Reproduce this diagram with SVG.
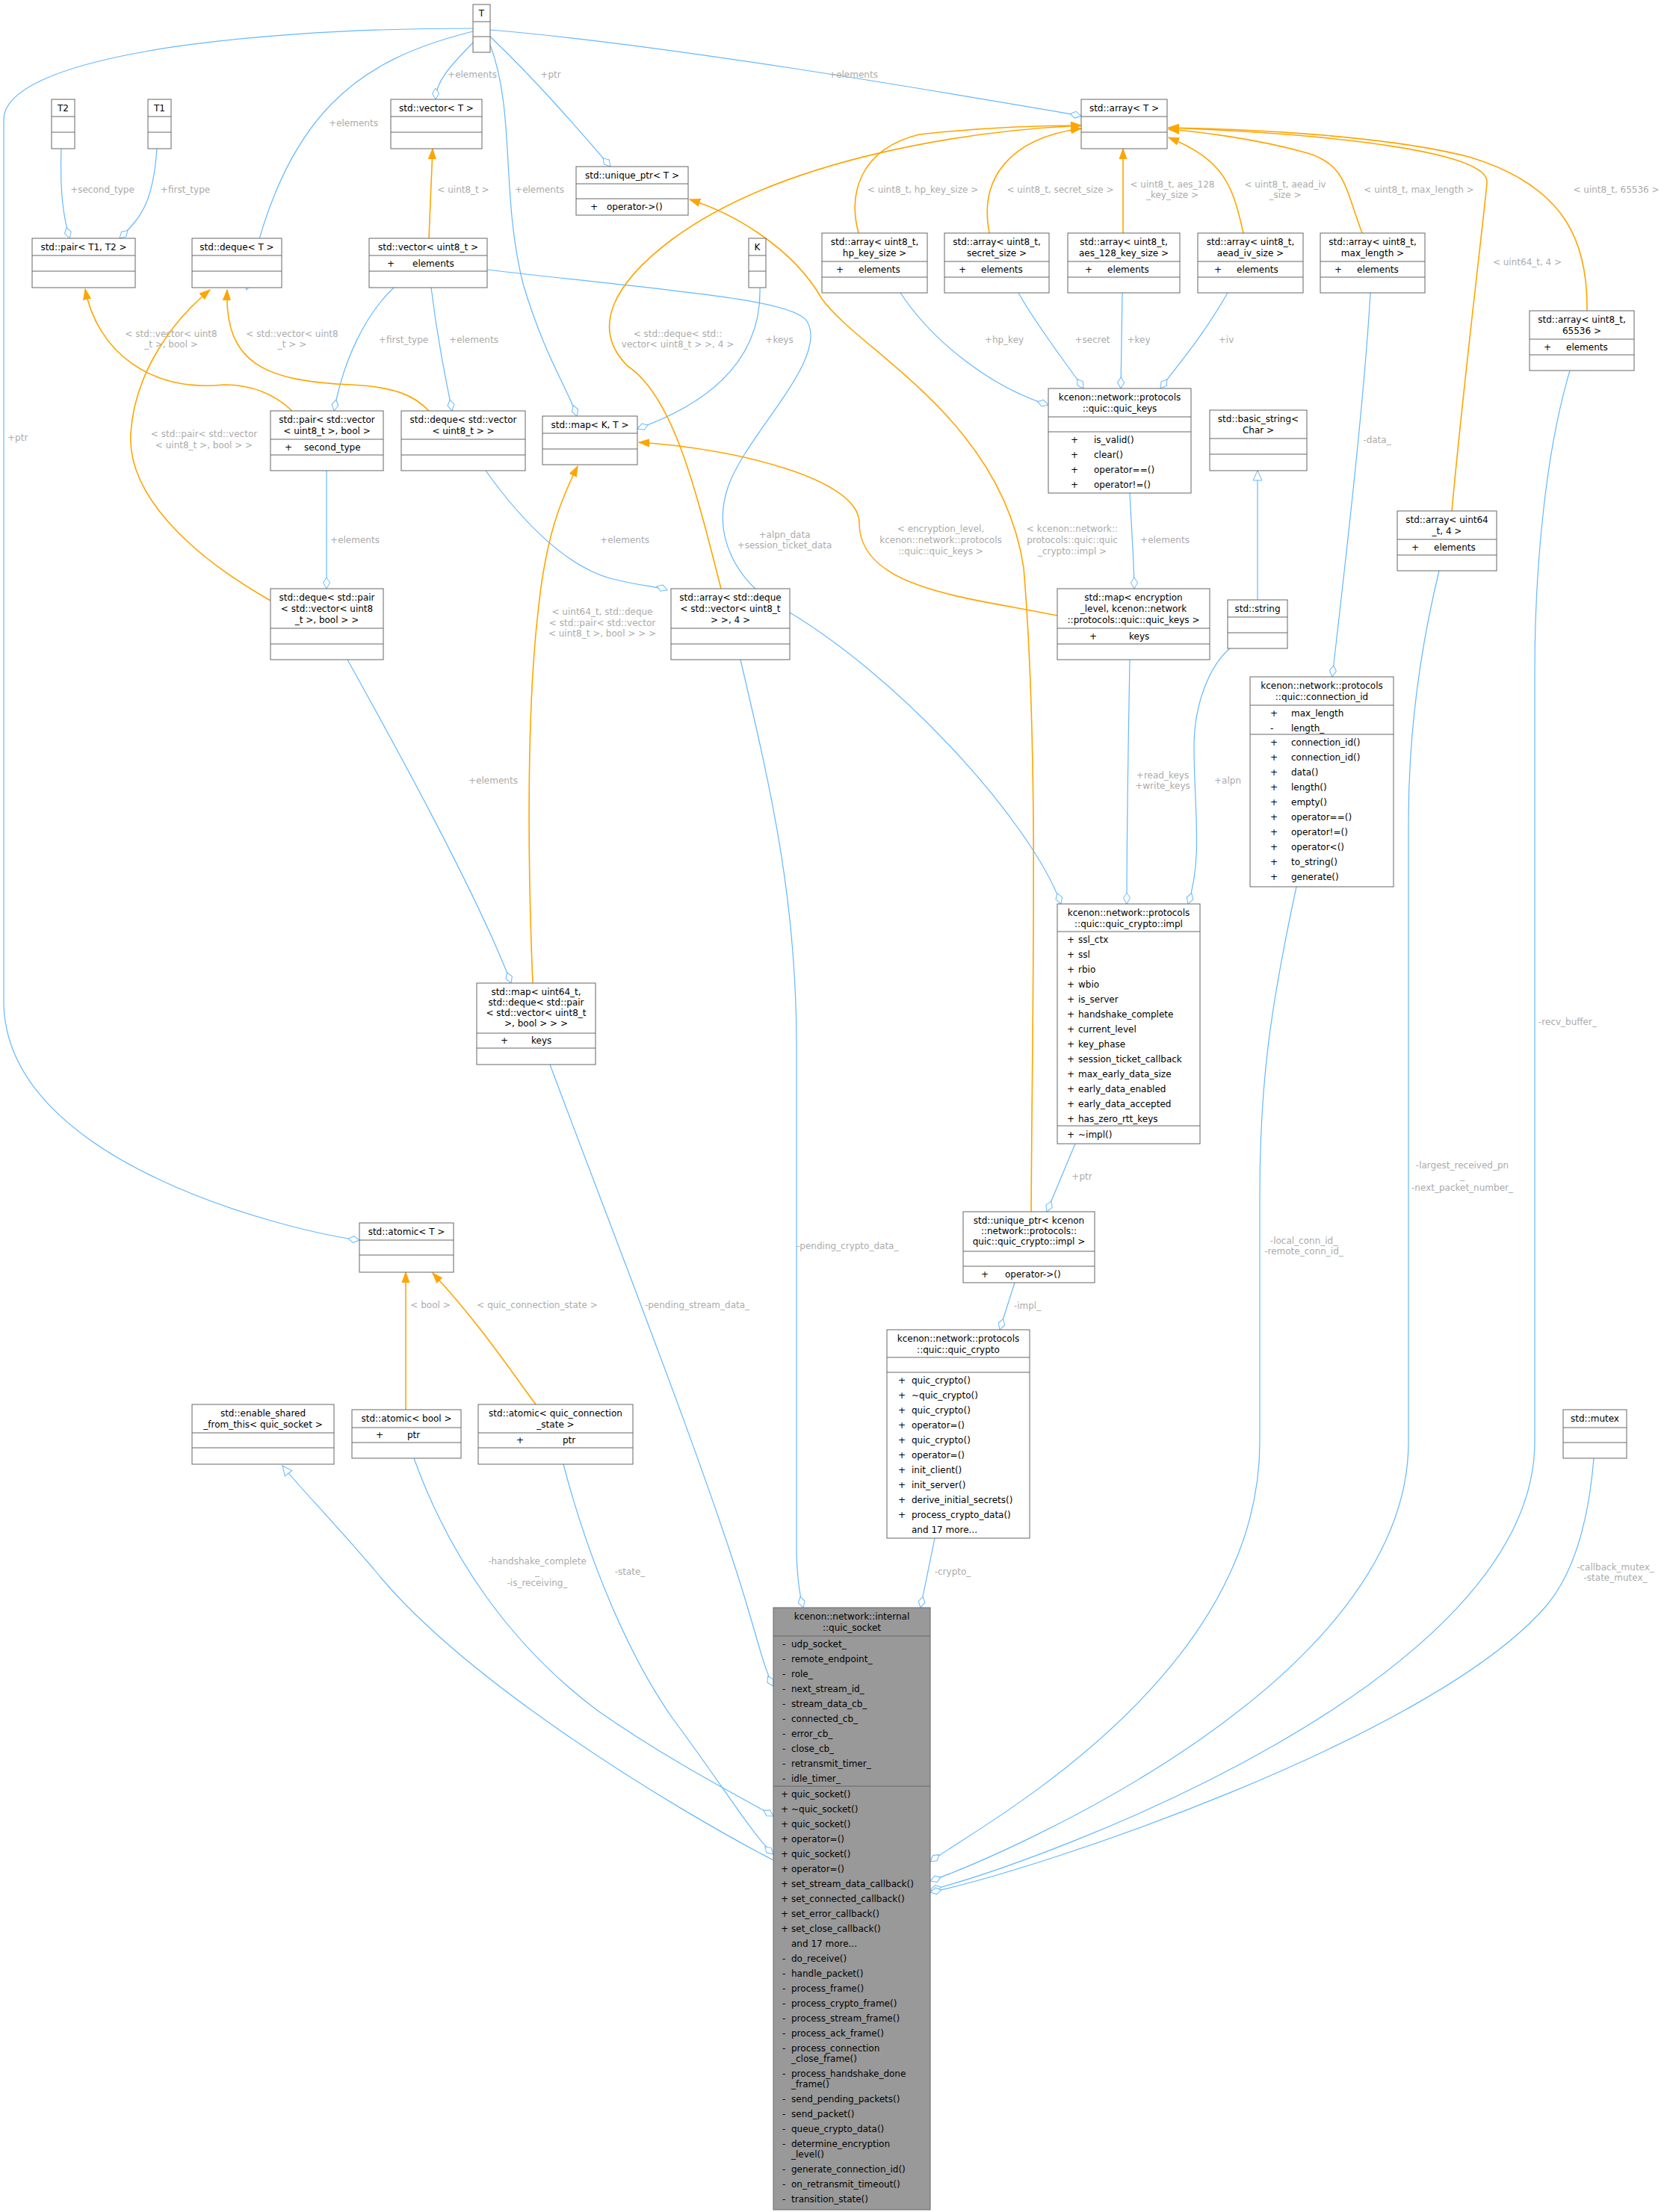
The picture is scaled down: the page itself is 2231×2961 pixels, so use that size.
<svg xmlns="http://www.w3.org/2000/svg" width="2231" height="2961" viewBox="0 0 2231 2961">
<style>
.b{fill:#fff;stroke:#666;stroke-width:1}
.g{fill:#999;stroke:#666;stroke-width:1}
.s{stroke:#666;stroke-width:1;fill:none}
text{font-family:"DejaVu Sans","Noto Sans",sans-serif;font-size:12px;fill:#000}
.c{text-anchor:middle}
.l{fill:#ababab;font-size:12px}
.e{fill:none;stroke:#63b8ff;stroke-width:1.2}
.o{fill:none;stroke:#ffa500;stroke-width:1.6}
</style>
<defs>
<marker id="d" markerWidth="18" markerHeight="12" refX="16" refY="6" orient="auto" markerUnits="userSpaceOnUse"><path d="M1,6 L8,1.5 L16,6 L8,10.5 z" fill="#fff" stroke="#63b8ff"/></marker>
<marker id="a" markerWidth="16" markerHeight="12" refX="14" refY="6" orient="auto" markerUnits="userSpaceOnUse"><path d="M0,1 L14,6 L0,11 z" fill="#ffa500" stroke="#ffa500"/></marker>
<marker id="i" markerWidth="16" markerHeight="14" refX="14" refY="7" orient="auto" markerUnits="userSpaceOnUse"><path d="M1,1 L14,7 L1,13 z" fill="#fff" stroke="#63b8ff"/></marker>
</defs>
<rect width="2231" height="2961" fill="#fff"/>
<g id="connectors">
<path class="e" marker-end="url(#d)" d="M633,38 C300,38 5,80 5,160 L5,1340 C5,1560 400,1650 481,1660"/>
<text class="l" x="10" y="590">+ptr</text>
<path class="e" marker-end="url(#d)" d="M633,42 C480,80 380,150 330,388"/>
<text class="l c" x="473" y="169">+elements</text>
<path class="e" marker-end="url(#d)" d="M640,50 C600,90 583,110 583,133"/>
<text class="l c" x="632" y="104">+elements</text>
<path class="e" marker-end="url(#d)" d="M656,60 C690,150 670,260 700,380 C730,480 760,520 772,557"/>
<text class="l c" x="722" y="258">+elements</text>
<path class="e" marker-end="url(#d)" d="M656,49 C720,110 780,180 817,223"/>
<text class="l c" x="737" y="104">+ptr</text>
<path class="e" marker-end="url(#d)" d="M656,40 C900,60 1300,130 1447,155"/>
<text class="l c" x="1142" y="104">+elements</text>
<path class="e" marker-end="url(#d)" d="M82,199 C80,260 85,290 93,319"/>
<text class="l c" x="137" y="258">+second_type</text>
<path class="e" marker-end="url(#d)" d="M210,199 C205,270 190,290 160,319"/>
<text class="l c" x="248" y="258">+first_type</text>
<path class="e" marker-end="url(#d)" d="M527,385 C490,420 460,480 447,550"/>
<text class="l c" x="540" y="459">+first_type</text>
<path class="e" marker-end="url(#d)" d="M577,385 C585,450 595,500 605,550"/>
<text class="l c" x="634" y="459">+elements</text>
<path class="e" marker-end="url(#d)" d="M1017,385 C1020,500 920,550 853,574"/>
<text class="l c" x="1043" y="459">+keys</text>
<path class="e" marker-end="url(#d)" d="M652,361 C900,390 1060,400 1080,430 C1110,480 1000,580 975,650 C950,720 990,780 1040,810 C1200,900 1380,1100 1420,1210"/>
<text class="l c" x="1050" y="720">+alpn_data</text>
<text class="l c" x="1050" y="734">+session_ticket_data</text>
<path class="e" marker-end="url(#d)" d="M437,630 L437,788"/>
<text class="l c" x="475" y="727">+elements</text>
<path class="e" marker-end="url(#d)" d="M650,630 C700,700 760,760 820,775 C860,785 880,785 893,790"/>
<text class="l c" x="836" y="727">+elements</text>
<path class="e" marker-end="url(#d)" d="M1205,392 C1250,460 1330,520 1403,542"/>
<text class="l c" x="1344" y="459">+hp_key</text>
<path class="e" marker-end="url(#d)" d="M1363,392 C1390,440 1430,490 1450,520"/>
<text class="l c" x="1462" y="459">+secret</text>
<path class="e" marker-end="url(#d)" d="M1502,392 L1500,520"/>
<text class="l c" x="1524" y="459">+key</text>
<path class="e" marker-end="url(#d)" d="M1643,392 C1610,450 1575,490 1553,520"/>
<text class="l c" x="1641" y="459">+iv</text>
<path class="e" marker-end="url(#d)" d="M1512,660 C1515,720 1518,760 1518,788"/>
<text class="l c" x="1559" y="727">+elements</text>
<path class="e" marker-end="url(#d)" d="M1834,392 C1825,550 1795,800 1783,906"/>
<text class="l c" x="1843" y="593">-data_</text>
<path class="e" marker-end="url(#i)" d="M1683,803 L1683,630"/>
<path class="e" marker-end="url(#d)" d="M1512,883 C1510,1000 1508,1100 1508,1210"/>
<text class="l c" x="1556" y="1042">+read_keys</text>
<text class="l c" x="1556" y="1056">+write_keys</text>
<path class="e" marker-end="url(#d)" d="M1646,868 C1620,890 1598,940 1598,1000 C1598,1080 1610,1150 1590,1210"/>
<text class="l c" x="1643" y="1049">+alpn</text>
<path class="e" marker-end="url(#d)" d="M1439,1531 L1401,1622"/>
<text class="l c" x="1448" y="1579">+ptr</text>
<path class="e" marker-end="url(#d)" d="M1358,1717 L1338,1780"/>
<text class="l c" x="1375" y="1752">-impl_</text>
<path class="e" marker-end="url(#d)" d="M1251,2059 L1232,2152"/>
<text class="l c" x="1275" y="2108">-crypto_</text>
<path class="e" marker-end="url(#d)" d="M736,1425 C820,1650 950,1980 1000,2150 C1015,2200 1025,2240 1035,2257"/>
<text class="l c" x="933" y="1751">-pending_stream_data_</text>
<path class="e" marker-end="url(#d)" d="M991,883 C1030,1050 1066,1200 1066,1400 L1066,2080 C1067,2110 1070,2135 1075,2152"/>
<text class="l" x="1066" y="1672">-pending_crypto_data_</text>
<path class="e" marker-end="url(#d)" d="M465,883 C530,1000 640,1200 684,1316"/>
<text class="l c" x="660" y="1049">+elements</text>
<path class="e" marker-end="url(#d)" d="M1735,1187 C1700,1350 1686,1450 1686,1600 L1686,1930 C1686,2250 1300,2450 1245,2492"/>
<text class="l c" x="1745" y="1665">-local_conn_id_</text>
<text class="l c" x="1745" y="1679">-remote_conn_id_</text>
<path class="e" marker-end="url(#d)" d="M1926,764 C1910,830 1885,950 1885,1100 L1885,1930 C1885,2250 1350,2480 1245,2518"/>
<text class="l c" x="1957" y="1564">-largest_received_pn</text>
<text class="l c" x="1957" y="1578">_</text>
<text class="l c" x="1957" y="1594">-next_packet_number_</text>
<path class="e" marker-end="url(#d)" d="M2101,496 C2070,600 2054,750 2054,900 L2054,1930 C2054,2250 1400,2490 1245,2530"/>
<text class="l" x="2059" y="1372">-recv_buffer_</text>
<path class="e" marker-end="url(#d)" d="M2133,1952 C2125,2050 2100,2120 2060,2160 C1900,2330 1400,2500 1245,2533"/>
<text class="l c" x="2162" y="2102">-callback_mutex_</text>
<text class="l c" x="2162" y="2116">-state_mutex_</text>
<path class="e" marker-end="url(#d)" d="M554,1952 C600,2080 680,2200 800,2290 C900,2360 1000,2410 1035,2431"/>
<text class="l c" x="719" y="2094">-handshake_complete</text>
<text class="l c" x="719" y="2108">_</text>
<text class="l c" x="719" y="2123">-is_receiving_</text>
<path class="e" marker-end="url(#d)" d="M754,1960 C780,2060 830,2200 900,2300 C960,2380 1010,2460 1035,2482"/>
<text class="l c" x="843" y="2108">-state_</text>
<path class="e" marker-end="url(#i)" d="M1035,2490 C900,2420 620,2250 500,2100 C440,2030 400,1990 378,1962"/>
<path class="o" marker-end="url(#a)" d="M574,319 L579,199"/>
<text class="l c" x="620" y="258">&lt; uint8_t &gt;</text>
<path class="o" marker-end="url(#a)" d="M391,550 C370,530 340,515 300,515 C200,525 130,470 114,387"/>
<text class="l c" x="229" y="451">&lt; std::vector&lt; uint8</text>
<text class="l c" x="229" y="465">_t &gt;, bool &gt;</text>
<path class="o" marker-end="url(#a)" d="M574,550 C555,530 530,518 470,515 C360,510 300,490 304,388"/>
<text class="l c" x="391" y="451">&lt; std::vector&lt; uint8</text>
<text class="l c" x="391" y="465">_t &gt; &gt;</text>
<path class="o" marker-end="url(#a)" d="M362,804 C250,740 170,660 175,580 C180,500 230,430 281,388"/>
<text class="l c" x="273" y="585">&lt; std::pair&lt; std::vector</text>
<text class="l c" x="273" y="600">&lt; uint8_t &gt;, bool &gt; &gt;</text>
<path class="o" marker-end="url(#a)" d="M965,788 C930,650 900,530 840,490 C790,440 820,380 900,320 C1050,210 1300,175 1447,168"/>
<text class="l c" x="907" y="451">&lt; std::deque&lt; std::</text>
<text class="l c" x="907" y="465">vector&lt; uint8_t &gt; &gt;, 4 &gt;</text>
<path class="o" marker-end="url(#a)" d="M713,1316 C706,1150 705,950 720,820 C730,720 750,670 773,624"/>
<text class="l c" x="806" y="823">&lt; uint64_t, std::deque</text>
<text class="l c" x="806" y="838">&lt; std::pair&lt; std::vector</text>
<text class="l c" x="806" y="852">&lt; uint8_t &gt;, bool &gt; &gt; &gt;</text>
<path class="o" marker-end="url(#a)" d="M1415,824 C1300,800 1150,790 1150,700 C1150,640 980,600 855,592"/>
<text class="l c" x="1259" y="712">&lt; encryption_level,</text>
<text class="l c" x="1259" y="727">kcenon::network::protocols</text>
<text class="l c" x="1259" y="742">::quic::quic_keys &gt;</text>
<path class="o" marker-end="url(#a)" d="M1380,1622 C1382,1300 1390,1000 1370,760 C1340,560 1150,470 1100,400 C1060,330 980,285 923,267"/>
<text class="l c" x="1435" y="712">&lt; kcenon::network::</text>
<text class="l c" x="1435" y="727">protocols::quic::quic</text>
<text class="l c" x="1435" y="742">_crypto::impl &gt;</text>
<path class="o" marker-end="url(#a)" d="M1149,312 C1135,260 1150,200 1230,180 C1320,170 1400,168 1447,168"/>
<text class="l c" x="1235" y="258">&lt; uint8_t, hp_key_size &gt;</text>
<path class="o" marker-end="url(#a)" d="M1324,312 C1310,240 1350,185 1447,172"/>
<text class="l c" x="1419" y="258">&lt; uint8_t, secret_size &gt;</text>
<path class="o" marker-end="url(#a)" d="M1503,312 L1503,199"/>
<text class="l c" x="1569" y="251">&lt; uint8_t, aes_128</text>
<text class="l c" x="1569" y="265">_key_size &gt;</text>
<path class="o" marker-end="url(#a)" d="M1664,312 C1650,250 1640,215 1564,184"/>
<text class="l c" x="1720" y="251">&lt; uint8_t, aead_iv</text>
<text class="l c" x="1720" y="265">_size &gt;</text>
<path class="o" marker-end="url(#a)" d="M1823,312 C1800,250 1800,220 1750,205 C1680,185 1600,176 1564,173"/>
<text class="l c" x="1899" y="258">&lt; uint8_t, max_length &gt;</text>
<path class="o" marker-end="url(#a)" d="M1943,684 C1960,500 1985,300 1990,245 C1995,205 1800,180 1564,171"/>
<text class="l c" x="2044" y="355">&lt; uint64_t, 4 &gt;</text>
<path class="o" marker-end="url(#a)" d="M2124,416 C2125,330 2100,250 1966,210 C1850,180 1650,172 1564,171"/>
<text class="l c" x="2163" y="258">&lt; uint8_t, 65536 &gt;</text>
<path class="o" marker-end="url(#a)" d="M543,1887 L543,1703"/>
<text class="l c" x="576" y="1751">&lt; bool &gt;</text>
<path class="o" marker-end="url(#a)" d="M717,1880 C680,1830 640,1770 579,1704"/>
<text class="l c" x="719" y="1751">&lt; quic_connection_state &gt;</text>
</g>
<g id="T"><rect class="b" x="633" y="6" width="23" height="64"/><path class="s" d="M633,29h23M633,49h23"/><text class="c" x="644.5" y="22">T</text></g>
<g id="T2"><rect class="b" x="69" y="133" width="31" height="66"/><path class="s" d="M69,156h31M69,177h31"/><text class="c" x="84.5" y="149">T2</text></g>
<g id="T1"><rect class="b" x="198" y="133" width="31" height="66"/><path class="s" d="M198,156h31M198,177h31"/><text class="c" x="213.5" y="149">T1</text></g>
<g id="vectorT"><rect class="b" x="523" y="133" width="122" height="66"/><path class="s" d="M523,156h122M523,177h122"/><text class="c" x="584" y="149">std::vector&lt; T &gt;</text></g>
<g id="uniqueT"><rect class="b" x="771" y="223" width="150" height="65"/><path class="s" d="M771,246h150M771,266h150"/><text class="c" x="846" y="239">std::unique_ptr&lt; T &gt;</text><text x="790" y="281">+</text><text x="812" y="281">operator-&gt;()</text></g>
<g id="pairT"><rect class="b" x="43" y="319" width="138" height="66"/><path class="s" d="M43,342h138M43,363h138"/><text class="c" x="112" y="335">std::pair&lt; T1, T2 &gt;</text></g>
<g id="dequeT"><rect class="b" x="257" y="319" width="120" height="66"/><path class="s" d="M257,342h120M257,363h120"/><text class="c" x="317" y="335">std::deque&lt; T &gt;</text></g>
<g id="vectorU8"><rect class="b" x="494" y="319" width="158" height="66"/><path class="s" d="M494,342h158M494,363h158"/><text class="c" x="573" y="335">std::vector&lt; uint8_t &gt;</text><text x="518" y="357">+</text><text x="552" y="357">elements</text></g>
<g id="K"><rect class="b" x="1002" y="319" width="23" height="66"/><path class="s" d="M1002,342h23M1002,363h23"/><text class="c" x="1013.5" y="335">K</text></g>
<g id="arrayT"><rect class="b" x="1447" y="133" width="115" height="66"/><path class="s" d="M1447,156h115M1447,177h115"/><text class="c" x="1504.5" y="149">std::array&lt; T &gt;</text></g>
<g id="arrHp"><rect class="b" x="1100" y="312" width="141" height="80"/><path class="s" d="M1100,350h141M1100,371h141"/><text class="c" x="1170.5" y="328">std::array&lt; uint8_t,</text><text class="c" x="1170.5" y="343">hp_key_size &gt;</text><text x="1119" y="365">+</text><text x="1149" y="365">elements</text></g>
<g id="arrSecret"><rect class="b" x="1264" y="312" width="140" height="80"/><path class="s" d="M1264,350h140M1264,371h140"/><text class="c" x="1334" y="328">std::array&lt; uint8_t,</text><text class="c" x="1334" y="343">secret_size &gt;</text><text x="1283" y="365">+</text><text x="1313" y="365">elements</text></g>
<g id="arrAes"><rect class="b" x="1429" y="312" width="150" height="80"/><path class="s" d="M1429,350h150M1429,371h150"/><text class="c" x="1504" y="328">std::array&lt; uint8_t,</text><text class="c" x="1504" y="343">aes_128_key_size &gt;</text><text x="1452" y="365">+</text><text x="1482" y="365">elements</text></g>
<g id="arrIv"><rect class="b" x="1603" y="312" width="141" height="80"/><path class="s" d="M1603,350h141M1603,371h141"/><text class="c" x="1673.5" y="328">std::array&lt; uint8_t,</text><text class="c" x="1673.5" y="343">aead_iv_size &gt;</text><text x="1625" y="365">+</text><text x="1655" y="365">elements</text></g>
<g id="arrMax"><rect class="b" x="1767" y="312" width="140" height="80"/><path class="s" d="M1767,350h140M1767,371h140"/><text class="c" x="1837" y="328">std::array&lt; uint8_t,</text><text class="c" x="1837" y="343">max_length &gt;</text><text x="1786" y="365">+</text><text x="1816" y="365">elements</text></g>
<g id="arr65536"><rect class="b" x="2047" y="416" width="140" height="80"/><path class="s" d="M2047,454h140M2047,475h140"/><text class="c" x="2117" y="432">std::array&lt; uint8_t,</text><text class="c" x="2117" y="447">65536 &gt;</text><text x="2066" y="469">+</text><text x="2096" y="469">elements</text></g>
<g id="pairVB"><rect class="b" x="362" y="550" width="151" height="80"/><path class="s" d="M362,588h151M362,609h151"/><text class="c" x="437.5" y="566">std::pair&lt; std::vector</text><text class="c" x="437.5" y="581">&lt; uint8_t &gt;, bool &gt;</text><text x="381" y="603">+</text><text x="407" y="603">second_type</text></g>
<g id="dequeV"><rect class="b" x="537" y="550" width="166" height="80"/><path class="s" d="M537,588h166M537,609h166"/><text class="c" x="620" y="566">std::deque&lt; std::vector</text><text class="c" x="620" y="581">&lt; uint8_t &gt; &gt;</text></g>
<g id="mapKT"><rect class="b" x="726" y="557" width="127" height="65"/><path class="s" d="M726,580h127M726,601h127"/><text class="c" x="789.5" y="573">std::map&lt; K, T &gt;</text></g>
<g id="quicKeys"><rect class="b" x="1403" y="520" width="191" height="140"/><path class="s" d="M1403,558h191M1403,578h191"/><text class="c" x="1498.5" y="536">kcenon::network::protocols</text><text class="c" x="1498.5" y="551">::quic::quic_keys</text><text x="1433" y="593">+</text><text x="1464" y="593">is_valid()</text><text x="1433" y="613">+</text><text x="1464" y="613">clear()</text><text x="1433" y="633">+</text><text x="1464" y="633">operator==()</text><text x="1433" y="653">+</text><text x="1464" y="653">operator!=()</text></g>
<g id="basicString"><rect class="b" x="1619" y="549" width="130" height="81"/><path class="s" d="M1619,587h130M1619,608h130"/><text class="c" x="1684" y="565">std::basic_string&lt;</text><text class="c" x="1684" y="580">Char &gt;</text></g>
<g id="arrU64"><rect class="b" x="1870" y="684" width="133" height="80"/><path class="s" d="M1870,722h133M1870,743h133"/><text class="c" x="1936.5" y="700">std::array&lt; uint64</text><text class="c" x="1936.5" y="715">_t, 4 &gt;</text><text x="1889" y="737">+</text><text x="1919" y="737">elements</text></g>
<g id="dequePair"><rect class="b" x="362" y="788" width="151" height="95"/><path class="s" d="M362,841h151M362,862h151"/><text class="c" x="437.5" y="804">std::deque&lt; std::pair</text><text class="c" x="437.5" y="819">&lt; std::vector&lt; uint8</text><text class="c" x="437.5" y="834">_t &gt;, bool &gt; &gt;</text></g>
<g id="arrDeque"><rect class="b" x="898" y="788" width="159" height="95"/><path class="s" d="M898,841h159M898,862h159"/><text class="c" x="977.5" y="804">std::array&lt; std::deque</text><text class="c" x="977.5" y="819">&lt; std::vector&lt; uint8_t</text><text class="c" x="977.5" y="834">&gt; &gt;, 4 &gt;</text></g>
<g id="mapEnc"><rect class="b" x="1415" y="788" width="204" height="95"/><path class="s" d="M1415,841h204M1415,862h204"/><text class="c" x="1517" y="804">std::map&lt; encryption</text><text class="c" x="1517" y="819">_level, kcenon::network</text><text class="c" x="1517" y="834">::protocols::quic::quic_keys &gt;</text><text x="1458" y="856">+</text><text x="1511" y="856">keys</text></g>
<g id="string"><rect class="b" x="1643" y="803" width="80" height="65"/><path class="s" d="M1643,826h80M1643,847h80"/><text class="c" x="1683" y="819">std::string</text></g>
<g id="connId"><rect class="b" x="1673" y="906" width="192" height="281"/><path class="s" d="M1673,944h192M1673,983h192"/><text class="c" x="1769" y="922">kcenon::network::protocols</text><text class="c" x="1769" y="937">::quic::connection_id</text>
<text x="1700" y="959">+</text><text x="1728" y="959">max_length</text><text x="1700" y="979">-</text><text x="1728" y="979">length_</text>
<text x="1700" y="998">+</text><text x="1728" y="998">connection_id()</text><text x="1700" y="1018">+</text><text x="1728" y="1018">connection_id()</text><text x="1700" y="1038">+</text><text x="1728" y="1038">data()</text><text x="1700" y="1058">+</text><text x="1728" y="1058">length()</text><text x="1700" y="1078">+</text><text x="1728" y="1078">empty()</text><text x="1700" y="1098">+</text><text x="1728" y="1098">operator==()</text><text x="1700" y="1118">+</text><text x="1728" y="1118">operator!=()</text><text x="1700" y="1138">+</text><text x="1728" y="1138">operator&lt;()</text><text x="1700" y="1158">+</text><text x="1728" y="1158">to_string()</text><text x="1700" y="1178">+</text><text x="1728" y="1178">generate()</text></g>
<g id="cryptoImpl"><rect class="b" x="1415" y="1210" width="191" height="321"/><path class="s" d="M1415,1247h191M1415,1507h191"/><text class="c" x="1510.5" y="1226">kcenon::network::protocols</text><text class="c" x="1510.5" y="1241">::quic::quic_crypto::impl</text>
<text x="1428" y="1262">+</text><text x="1443" y="1262">ssl_ctx</text><text x="1428" y="1282">+</text><text x="1443" y="1282">ssl</text><text x="1428" y="1302">+</text><text x="1443" y="1302">rbio</text><text x="1428" y="1322">+</text><text x="1443" y="1322">wbio</text><text x="1428" y="1342">+</text><text x="1443" y="1342">is_server</text><text x="1428" y="1362">+</text><text x="1443" y="1362">handshake_complete</text><text x="1428" y="1382">+</text><text x="1443" y="1382">current_level</text><text x="1428" y="1402">+</text><text x="1443" y="1402">key_phase</text><text x="1428" y="1422">+</text><text x="1443" y="1422">session_ticket_callback</text><text x="1428" y="1442">+</text><text x="1443" y="1442">max_early_data_size</text><text x="1428" y="1462">+</text><text x="1443" y="1462">early_data_enabled</text><text x="1428" y="1482">+</text><text x="1443" y="1482">early_data_accepted</text><text x="1428" y="1502">+</text><text x="1443" y="1502">has_zero_rtt_keys</text><text x="1428" y="1523">+</text><text x="1443" y="1523">~impl()</text></g>
<g id="mapU64"><rect class="b" x="638" y="1316" width="159" height="109"/><path class="s" d="M638,1383h159M638,1403h159"/><text class="c" x="717.5" y="1332">std::map&lt; uint64_t,</text><text class="c" x="717.5" y="1346">std::deque&lt; std::pair</text><text class="c" x="717.5" y="1360">&lt; std::vector&lt; uint8_t</text><text class="c" x="717.5" y="1374">&gt;, bool &gt; &gt; &gt;</text><text x="670" y="1397">+</text><text x="711" y="1397">keys</text></g>
<g id="uniqueImpl"><rect class="b" x="1289" y="1622" width="176" height="95"/><path class="s" d="M1289,1675h176M1289,1695h176"/><text class="c" x="1377" y="1638">std::unique_ptr&lt; kcenon</text><text class="c" x="1377" y="1652">::network::protocols::</text><text class="c" x="1377" y="1666">quic::quic_crypto::impl &gt;</text><text x="1313" y="1710">+</text><text x="1345" y="1710">operator-&gt;()</text></g>
<g id="atomicT"><rect class="b" x="481" y="1637" width="126" height="66"/><path class="s" d="M481,1660h126M481,1680h126"/><text class="c" x="544" y="1653">std::atomic&lt; T &gt;</text></g>
<g id="quicCrypto"><rect class="b" x="1187" y="1780" width="191" height="279"/><path class="s" d="M1187,1817h191M1187,1837h191"/><text class="c" x="1282.5" y="1796">kcenon::network::protocols</text><text class="c" x="1282.5" y="1811">::quic::quic_crypto</text>
<text x="1202" y="1852">+</text><text x="1220" y="1852">quic_crypto()</text><text x="1202" y="1872">+</text><text x="1220" y="1872">~quic_crypto()</text><text x="1202" y="1892">+</text><text x="1220" y="1892">quic_crypto()</text><text x="1202" y="1912">+</text><text x="1220" y="1912">operator=()</text><text x="1202" y="1932">+</text><text x="1220" y="1932">quic_crypto()</text><text x="1202" y="1952">+</text><text x="1220" y="1952">operator=()</text><text x="1202" y="1972">+</text><text x="1220" y="1972">init_client()</text><text x="1202" y="1992">+</text><text x="1220" y="1992">init_server()</text><text x="1202" y="2012">+</text><text x="1220" y="2012">derive_initial_secrets()</text><text x="1202" y="2032">+</text><text x="1220" y="2032">process_crypto_data()</text><text x="1220" y="2052">and 17 more...</text></g>
<g id="enableShared"><rect class="b" x="257" y="1880" width="190" height="80"/><path class="s" d="M257,1918h190M257,1938h190"/><text class="c" x="352" y="1896">std::enable_shared</text><text class="c" x="352" y="1911">_from_this&lt; quic_socket &gt;</text></g>
<g id="atomicBool"><rect class="b" x="471" y="1887" width="146" height="65"/><path class="s" d="M471,1911h146M471,1931h146"/><text class="c" x="544" y="1903">std::atomic&lt; bool &gt;</text><text x="503" y="1925">+</text><text x="545" y="1925">ptr</text></g>
<g id="atomicState"><rect class="b" x="640" y="1880" width="207" height="80"/><path class="s" d="M640,1918h207M640,1938h207"/><text class="c" x="743.5" y="1896">std::atomic&lt; quic_connection</text><text class="c" x="743.5" y="1911">_state &gt;</text><text x="691" y="1932">+</text><text x="753" y="1932">ptr</text></g>
<g id="mutex"><rect class="b" x="2092" y="1887" width="85" height="65"/><path class="s" d="M2092,1911h85M2092,1931h85"/><text class="c" x="2134.5" y="1903">std::mutex</text></g>
<g id="quicSocket"><rect class="g" x="1035" y="2152" width="210" height="806"/><path class="s" d="M1035,2190h210M1035,2391h210"/><text class="c" x="1140" y="2168">kcenon::network::internal</text><text class="c" x="1140" y="2183">::quic_socket</text>
<text x="1047" y="2205">-</text><text x="1059" y="2205">udp_socket_</text><text x="1047" y="2225">-</text><text x="1059" y="2225">remote_endpoint_</text><text x="1047" y="2245">-</text><text x="1059" y="2245">role_</text><text x="1047" y="2265">-</text><text x="1059" y="2265">next_stream_id_</text><text x="1047" y="2285">-</text><text x="1059" y="2285">stream_data_cb_</text><text x="1047" y="2305">-</text><text x="1059" y="2305">connected_cb_</text><text x="1047" y="2325">-</text><text x="1059" y="2325">error_cb_</text><text x="1047" y="2345">-</text><text x="1059" y="2345">close_cb_</text><text x="1047" y="2365">-</text><text x="1059" y="2365">retransmit_timer_</text><text x="1047" y="2385">-</text><text x="1059" y="2385">idle_timer_</text>
<text x="1045" y="2406">+</text><text x="1059" y="2406">quic_socket()</text><text x="1045" y="2426">+</text><text x="1059" y="2426">~quic_socket()</text><text x="1045" y="2446">+</text><text x="1059" y="2446">quic_socket()</text><text x="1045" y="2466">+</text><text x="1059" y="2466">operator=()</text><text x="1045" y="2486">+</text><text x="1059" y="2486">quic_socket()</text><text x="1045" y="2506">+</text><text x="1059" y="2506">operator=()</text><text x="1045" y="2526">+</text><text x="1059" y="2526">set_stream_data_callback()</text><text x="1045" y="2546">+</text><text x="1059" y="2546">set_connected_callback()</text><text x="1045" y="2566">+</text><text x="1059" y="2566">set_error_callback()</text><text x="1045" y="2586">+</text><text x="1059" y="2586">set_close_callback()</text><text x="1059" y="2606">and 17 more...</text>
<text x="1047" y="2626">-</text><text x="1059" y="2626">do_receive()</text><text x="1047" y="2646">-</text><text x="1059" y="2646">handle_packet()</text><text x="1047" y="2666">-</text><text x="1059" y="2666">process_frame()</text><text x="1047" y="2686">-</text><text x="1059" y="2686">process_crypto_frame()</text><text x="1047" y="2706">-</text><text x="1059" y="2706">process_stream_frame()</text><text x="1047" y="2726">-</text><text x="1059" y="2726">process_ack_frame()</text><text x="1047" y="2746">-</text><text x="1059" y="2746">process_connection</text><text x="1059" y="2760">_close_frame()</text><text x="1047" y="2780">-</text><text x="1059" y="2780">process_handshake_done</text><text x="1059" y="2794">_frame()</text><text x="1047" y="2814">-</text><text x="1059" y="2814">send_pending_packets()</text><text x="1047" y="2834">-</text><text x="1059" y="2834">send_packet()</text><text x="1047" y="2854">-</text><text x="1059" y="2854">queue_crypto_data()</text><text x="1047" y="2874">-</text><text x="1059" y="2874">determine_encryption</text><text x="1059" y="2888">_level()</text><text x="1047" y="2908">-</text><text x="1059" y="2908">generate_connection_id()</text><text x="1047" y="2928">-</text><text x="1059" y="2928">on_retransmit_timeout()</text><text x="1047" y="2948">-</text><text x="1059" y="2948">transition_state()</text></g>
</svg>
